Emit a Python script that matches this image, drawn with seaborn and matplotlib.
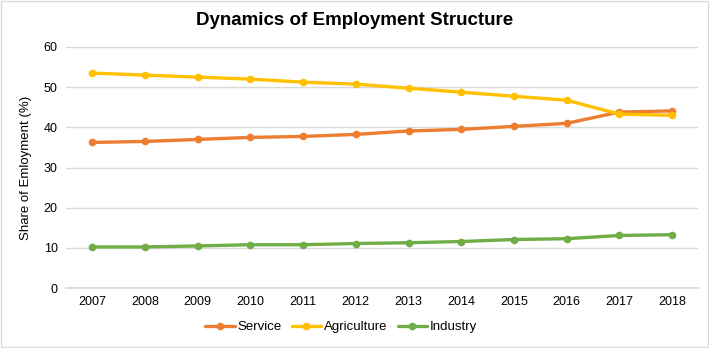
import matplotlib
matplotlib.use("Agg")
import matplotlib.pyplot as plt
import seaborn as sns
import pandas as pd

years = [2007, 2008, 2009, 2010, 2011, 2012, 2013, 2014, 2015, 2016, 2017, 2018]
service = [36.25, 36.5, 37.0, 37.5, 37.75, 38.25, 39.1, 39.5, 40.25, 41.0, 43.8, 44.1]
agriculture = [53.5, 53.0, 52.5, 52.0, 51.25, 50.75, 49.75, 48.75, 47.75, 46.75, 43.3, 43.0]
industry = [10.25, 10.25, 10.5, 10.8, 10.8, 11.1, 11.3, 11.6, 12.1, 12.3, 13.1, 13.3]
series_names = ["Service", "Agriculture", "Industry"]
colors = ["#ED7D31", "#FFC000", "#70AD47"]

sns.set_theme(style="white")
plt.rcParams['font.family'] = ['Liberation Sans', 'DejaVu Sans']
plt.rcParams['text.color'] = '#000000'

df = pd.DataFrame({
    "Year": years * 3,
    "Value": service + agriculture + industry,
    "Sector": [n for n in series_names for _ in years],
})

fig = plt.figure(figsize=(7.09, 3.48), dpi=100)
ax = fig.add_axes([0.093, 0.172, 0.892, 0.693])

sns.lineplot(data=df, x="Year", y="Value", hue="Sector", hue_order=series_names,
             palette=colors, marker="o", markersize=5.5, markeredgewidth=0,
             linewidth=2.4, ax=ax)

ax.set_xlim(2006.5, 2018.5)
ax.set_ylim(0, 60)
ax.set_yticks(range(0, 61, 10))
ax.set_xticks(years)
ax.set_xticklabels([str(y) for y in years])
ax.tick_params(axis="both", labelsize=9, colors="#000000", length=0, pad=6)
ax.yaxis.grid(True, color="#D9D9D9", linewidth=1)
ax.set_axisbelow(True)
for s in ["top", "right", "left"]:
    ax.spines[s].set_visible(False)
ax.spines["bottom"].set_color("#D9D9D9")
ax.set_xlabel("")
ax.set_ylabel("Share of Emloyment (%)", fontsize=9.5, color="#000000", labelpad=8)

handles, labels = ax.get_legend_handles_labels()
ax.get_legend().remove()
leg = fig.legend(handles, labels, loc="center", bbox_to_anchor=(0.481, 0.06), ncol=3,
                 frameon=False, fontsize=9.5, handlelength=2.2, columnspacing=0.8,
                 handletextpad=0.2)
for t in leg.get_texts():
    t.set_color("#000000")

fig.suptitle("Dynamics of Employment Structure", fontsize=13.5, fontweight="bold",
             y=0.965, x=0.5, color="#000000")

border = plt.Rectangle((0.001, 0.002), 0.997, 0.995, transform=fig.transFigure,
                       fill=False, edgecolor="#D9D9D9", linewidth=1)
fig.patches.append(border)

fig.savefig("out.png", dpi=100)
